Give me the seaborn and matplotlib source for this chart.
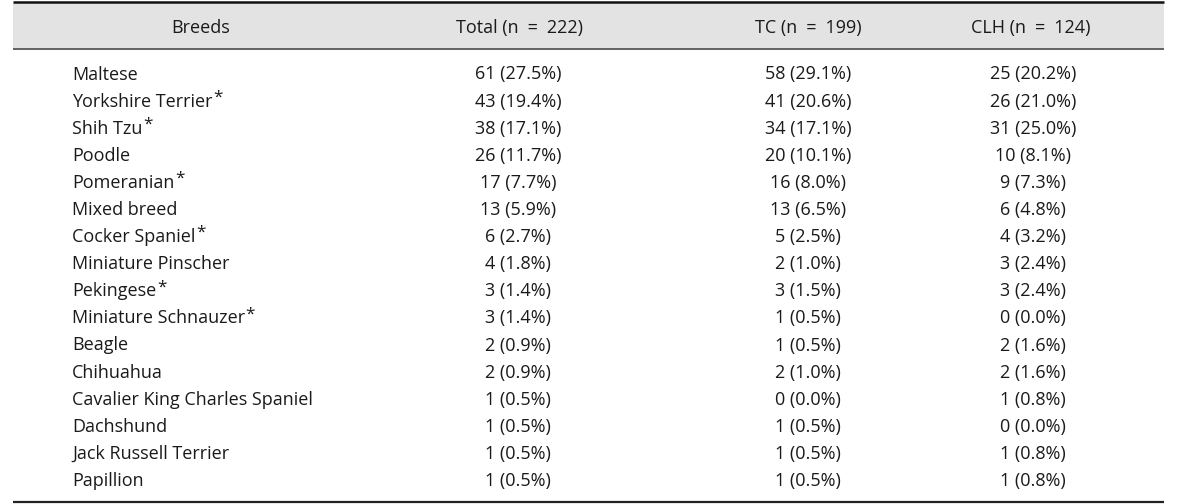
import matplotlib
matplotlib.use("Agg")
import matplotlib.pyplot as plt
import seaborn as sns

# --- table data ---
breeds = ["Maltese", "Yorkshire Terrier", "Shih Tzu", "Poodle", "Pomeranian",
          "Mixed breed", "Cocker Spaniel", "Miniature Pinscher", "Pekingese",
          "Miniature Schnauzer", "Beagle", "Chihuahua",
          "Cavalier King Charles Spaniel", "Dachshund", "Jack Russell Terrier",
          "Papillion"]
starred = ["Yorkshire Terrier", "Shih Tzu", "Pomeranian", "Cocker Spaniel",
           "Pekingese", "Miniature Schnauzer"]

total_n = [61, 43, 38, 26, 17, 13, 6, 4, 3, 3, 2, 2, 1, 1, 1, 1]
total_pct = [27.5, 19.4, 17.1, 11.7, 7.7, 5.9, 2.7, 1.8, 1.4, 1.4, 0.9, 0.9, 0.5, 0.5, 0.5, 0.5]
tc_n = [58, 41, 34, 20, 16, 13, 5, 2, 3, 1, 1, 2, 0, 1, 1, 1]
tc_pct = [29.1, 20.6, 17.1, 10.1, 8.0, 6.5, 2.5, 1.0, 1.5, 0.5, 0.5, 1.0, 0.0, 0.5, 0.5, 0.5]
clh_n = [25, 26, 31, 10, 9, 6, 4, 3, 3, 0, 2, 2, 1, 0, 1, 1]
clh_pct = [20.2, 21.0, 25.0, 8.1, 7.3, 4.8, 3.2, 2.4, 2.4, 0.0, 1.6, 1.6, 0.8, 0.0, 0.8, 0.8]

headers = ["Breeds", "Total (n\u2002=\u2002222)", "TC (n\u2002=\u2002199)", "CLH (n\u2002=\u2002124)"]

sns.set_theme(style="white")
plt.rcParams["font.family"] = ["Open Sans", "DejaVu Sans"]

W, H = 1200, 504
fig = plt.figure(figsize=(12, 5.04), dpi=100)
ax = fig.add_axes([0, 0, 1, 1])
ax.set_xlim(0, W)
ax.set_ylim(H, 0)
ax.axis("off")

left, right = 13, 1164
fs = 13
txt = "#1a1a1a"

# header band and rules
ax.fill_between([left, right], 3, 48, color="#e3e3e3", lw=0)
ax.plot([left, right], [2, 2], color="#111111", lw=1.8, solid_capstyle="butt")
ax.plot([left, right], [48.5, 48.5], color="#555555", lw=1.3, solid_capstyle="butt")
ax.plot([left, right], [501.5, 501.5], color="#222222", lw=1.6, solid_capstyle="butt")

header_x = [201, 519, 808, 1031]
for hx, h in zip(header_x, headers):
    ax.text(hx, 33, h, ha="center", va="baseline", fontsize=fs, color=txt)

name_x = 72
col_x = [518, 808, 1033]
y0, dy = 79.5, 27.1

fig.canvas.draw()
renderer = fig.canvas.get_renderer()
inv = ax.transData.inverted()

for i, b in enumerate(breeds):
    y = y0 + i * dy
    t = ax.text(name_x, y, b, ha="left", va="baseline", fontsize=fs, color=txt)
    if b in starred:
        bb = t.get_window_extent(renderer=renderer)
        xr = inv.transform((bb.x1, 0))[0]
        ax.text(xr + 0.5, y - 5, "*", ha="left", va="baseline", fontsize=fs * 0.95, color=txt)
    cols = [(total_n[i], total_pct[i]), (tc_n[i], tc_pct[i]), (clh_n[i], clh_pct[i])]
    for cx, (n, p) in zip(col_x, cols):
        ax.text(cx, y, f"{n} ({p:.1f}%)", ha="center", va="baseline", fontsize=fs, color=txt)

fig.savefig("out.png", dpi=100)
